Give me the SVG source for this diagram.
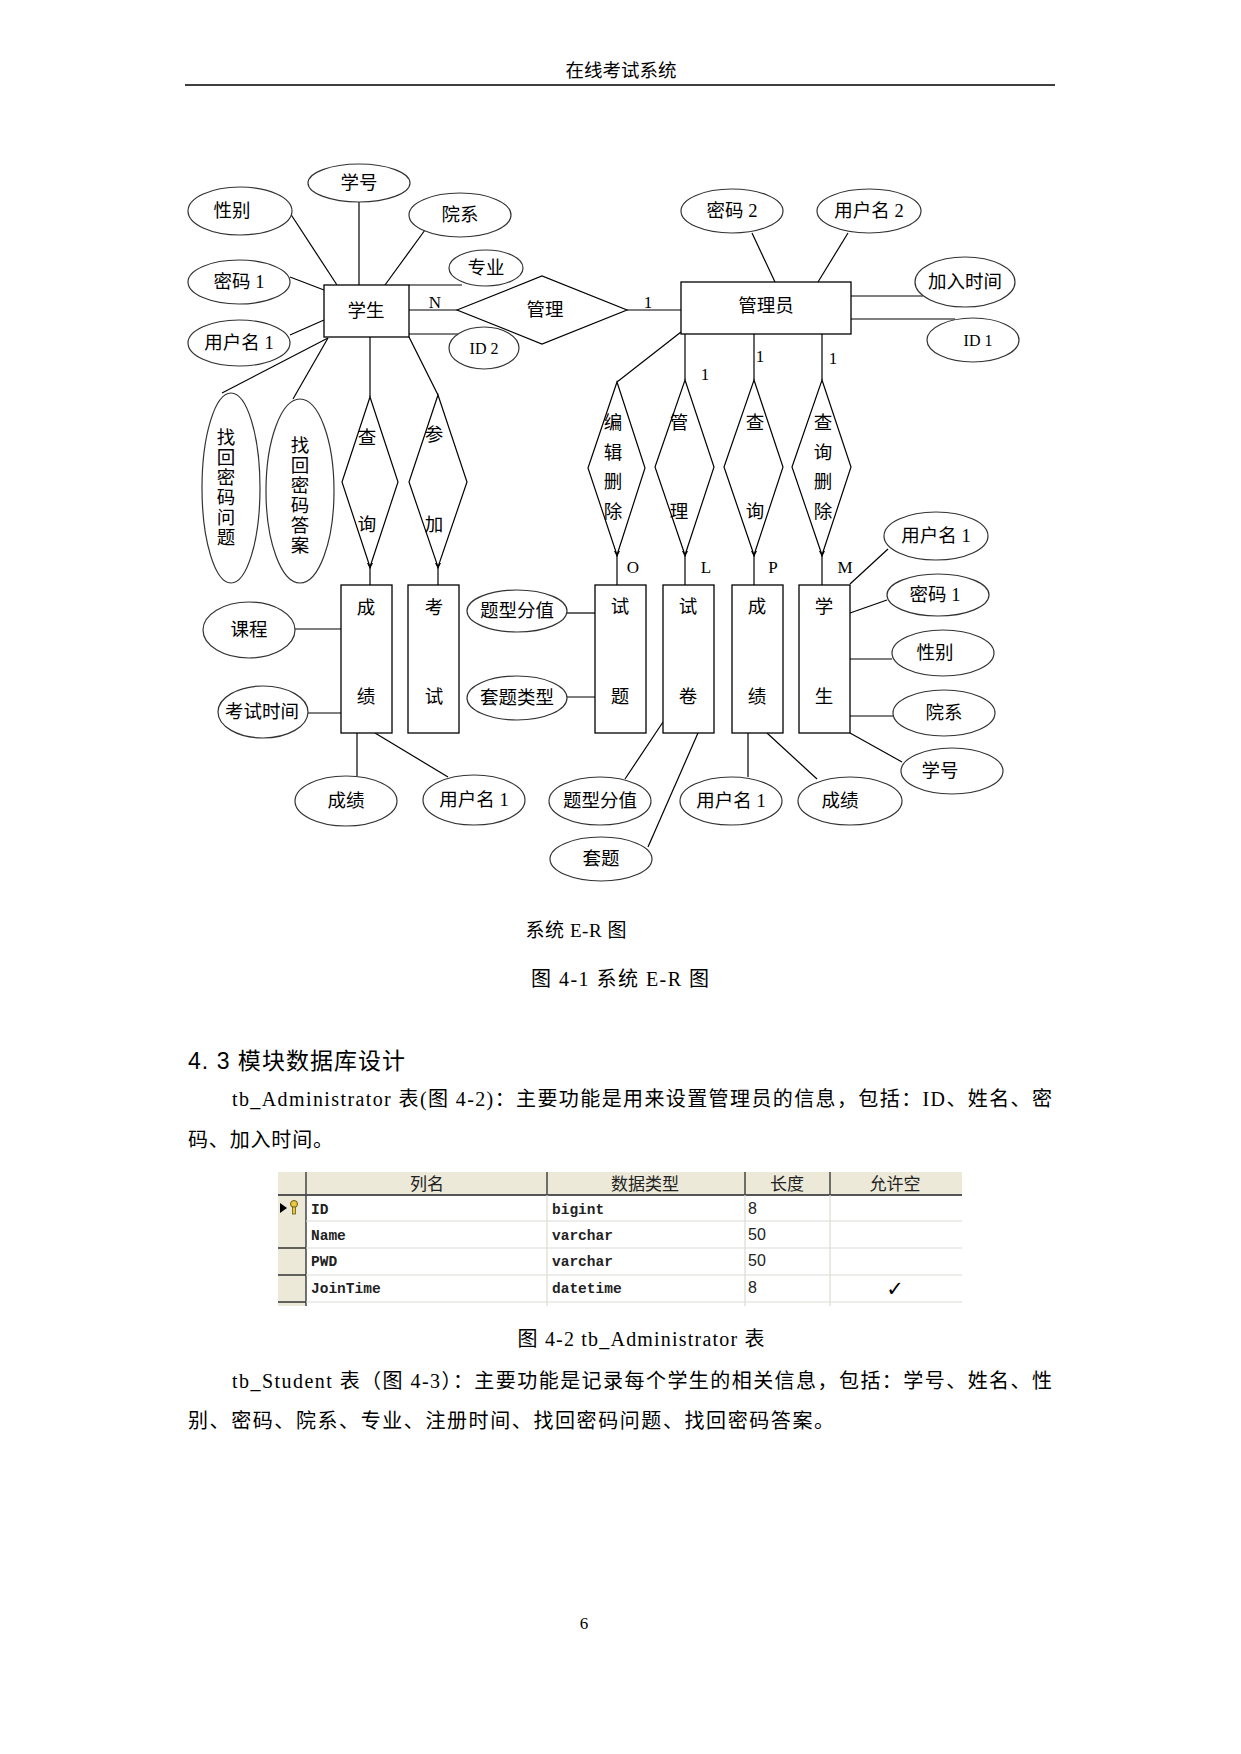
<svg xmlns="http://www.w3.org/2000/svg" width="1241" height="1754" viewBox="0 0 1241 1754">
<style>
  .ent rect { fill: #fff; stroke: #000; stroke-width: 1.3; }
  .attr ellipse { fill: #fff; stroke: #333; stroke-width: 1.2; }
  .rel polygon { fill: #fff; stroke: #000; stroke-width: 1.2; }
  #connectors line { stroke: #000; stroke-width: 1.2; }
  text { font-family: "Liberation Serif", "Noto Sans CJK SC", serif; fill: #000; }
  .lbl { font-size: 18.5px; text-anchor: middle; dominant-baseline: central; }
  .card { font-size: 17px; text-anchor: middle; dominant-baseline: central; }
  .body { font-size: 20px; }
  .cap { font-size: 20px; text-anchor: middle; }
  .th { font-family: "Noto Sans CJK SC", sans-serif; font-size: 17px; text-anchor: middle; fill: #222; }
  .td { font-family: "Liberation Mono", monospace; font-size: 14.5px; font-weight: bold; fill: #222; }
  .tn { font-family: "Liberation Sans", sans-serif; font-size: 16px; fill: #222; }
</style>
<defs>
  <marker id="tip" markerWidth="6" markerHeight="6" refX="0" refY="3" orient="auto" markerUnits="userSpaceOnUse">
    <path d="M0,0 L6,3 L0,6 z" fill="#000"/>
  </marker>
</defs>
<rect width="1241" height="1754" fill="#fff"/>

<!-- page header -->
<text x="621" y="77" class="cap" style="font-size:18.5px">在线考试系统</text>
<line x1="185" y1="85" x2="1055" y2="85" stroke="#000" stroke-width="1.5"/>

<!-- connectors -->
<g id="connectors">
  <line x1="359" y1="202" x2="359" y2="285"/>
  <line x1="290" y1="213" x2="337" y2="285"/>
  <line x1="425" y1="230" x2="385" y2="285"/>
  <line x1="290" y1="277" x2="324" y2="290"/>
  <line x1="290" y1="335" x2="324" y2="320"/>
  <line x1="409" y1="285" x2="462" y2="285"/>
  <line x1="409" y1="334" x2="458" y2="334"/>
  <line x1="409" y1="310" x2="457" y2="310"/>
  <line x1="627" y1="310" x2="681" y2="310"/>
  <line x1="752" y1="233" x2="775" y2="282"/>
  <line x1="848" y1="233" x2="818" y2="282"/>
  <line x1="851" y1="296" x2="923" y2="296"/>
  <line x1="851" y1="319" x2="955" y2="319"/>
  <line x1="681" y1="332" x2="617" y2="382"/>
  <line x1="685" y1="334" x2="685" y2="380"/>
  <line x1="754" y1="334" x2="754" y2="380"/>
  <line x1="822" y1="334" x2="822" y2="380"/>
  <line x1="617" y1="551" x2="617" y2="585" marker-start="url(#tip)"/>
  <line x1="685" y1="551" x2="685" y2="585" marker-start="url(#tip)"/>
  <line x1="754" y1="551" x2="754" y2="585" marker-start="url(#tip)"/>
  <line x1="822" y1="551" x2="822" y2="585" marker-start="url(#tip)"/>
  <line x1="370" y1="337" x2="370" y2="397"/>
  <line x1="409" y1="337" x2="438" y2="395"/>
  <line x1="370" y1="563" x2="370" y2="585" marker-start="url(#tip)"/>
  <line x1="438" y1="563" x2="438" y2="585" marker-start="url(#tip)"/>
  <line x1="328" y1="338" x2="222" y2="393"/>
  <line x1="328" y1="338" x2="293" y2="399"/>
  <line x1="295" y1="629" x2="341" y2="629"/>
  <line x1="308" y1="713" x2="341" y2="713"/>
  <line x1="357" y1="733" x2="357" y2="776"/>
  <line x1="375" y1="733" x2="448" y2="777"/>
  <line x1="567" y1="613" x2="595" y2="613"/>
  <line x1="567" y1="697" x2="600" y2="697"/>
  <line x1="625" y1="779" x2="663" y2="722"/>
  <line x1="648" y1="847" x2="698" y2="733"/>
  <line x1="748" y1="733" x2="748" y2="777"/>
  <line x1="767" y1="733" x2="817" y2="779"/>
  <line x1="888" y1="549" x2="850" y2="584"/>
  <line x1="887" y1="600" x2="850" y2="613"/>
  <line x1="850" y1="659" x2="892" y2="659"/>
  <line x1="850" y1="716" x2="893" y2="716"/>
  <line x1="850" y1="733" x2="902" y2="762"/>
</g>

<!-- cardinality labels -->
<g id="cardinalities">
  <text x="435" y="302" class="card">N</text>
  <text x="648" y="302" class="card">1</text>
  <text x="705" y="374" class="card">1</text>
  <text x="760" y="356" class="card">1</text>
  <text x="833" y="358" class="card">1</text>
  <text x="633" y="567" class="card">O</text>
  <text x="706" y="567" class="card">L</text>
  <text x="773" y="567" class="card">P</text>
  <text x="845" y="567" class="card">M</text>
</g>

<!-- entities -->
<g id="ent-student" class="ent"><rect x="324" y="285" width="85" height="52"/><text x="366" y="311" class="lbl">学生</text></g>
<g id="ent-admin" class="ent"><rect x="681" y="282" width="170" height="52"/><text x="766" y="306" class="lbl">管理员</text></g>
<g id="ent-score-l" class="ent"><rect x="341" y="585" width="51" height="148"/><text x="366" y="608" class="lbl">成</text><text x="366" y="697" class="lbl">绩</text></g>
<g id="ent-exam" class="ent"><rect x="408" y="585" width="51" height="148"/><text x="434" y="608" class="lbl">考</text><text x="434" y="697" class="lbl">试</text></g>
<g id="ent-question" class="ent"><rect x="595" y="585" width="51" height="148"/><text x="620" y="607" class="lbl">试</text><text x="620" y="697" class="lbl">题</text></g>
<g id="ent-paper" class="ent"><rect x="663" y="585" width="51" height="148"/><text x="688" y="607" class="lbl">试</text><text x="688" y="697" class="lbl">卷</text></g>
<g id="ent-score-r" class="ent"><rect x="732" y="585" width="51" height="148"/><text x="757" y="607" class="lbl">成</text><text x="757" y="697" class="lbl">绩</text></g>
<g id="ent-student-r" class="ent"><rect x="799" y="585" width="51" height="148"/><text x="824" y="607" class="lbl">学</text><text x="824" y="697" class="lbl">生</text></g>

<!-- relationships -->
<g id="rel-manage" class="rel"><polygon points="457,310 542,276 627,310 542,344"/><text x="545" y="310" class="lbl">管理</text></g>
<g id="rel-query-l" class="rel"><polygon points="370,397 398,482 370,567 342,482"/><text x="367" y="438" class="lbl">查</text><text x="367" y="525" class="lbl">询</text></g>
<g id="rel-join" class="rel"><polygon points="438,395 467,482 438,567 409,482"/><text x="434" y="435" class="lbl">参</text><text x="434" y="525" class="lbl">加</text></g>
<g id="rel-edit" class="rel"><polygon points="617,382 645,468 617,555 588,468"/><text x="613" y="423" class="lbl">编</text><text x="613" y="453" class="lbl">辑</text><text x="613" y="482" class="lbl">删</text><text x="613" y="512" class="lbl">除</text></g>
<g id="rel-manage2" class="rel"><polygon points="685,380 714,467 685,555 655,467"/><text x="679" y="423" class="lbl">管</text><text x="679" y="512" class="lbl">理</text></g>
<g id="rel-query2" class="rel"><polygon points="754,380 783,467 754,555 724,467"/><text x="755" y="423" class="lbl">查</text><text x="755" y="512" class="lbl">询</text></g>
<g id="rel-querydel" class="rel"><polygon points="822,380 851,467 822,555 792,467"/><text x="823" y="423" class="lbl">查</text><text x="823" y="453" class="lbl">询</text><text x="823" y="482" class="lbl">删</text><text x="823" y="512" class="lbl">除</text></g>

<!-- attributes -->
<g id="a-xuehao" class="attr"><ellipse cx="359" cy="183" rx="51" ry="19"/><text x="359" y="183" class="lbl">学号</text></g>
<g id="a-xingbie" class="attr"><ellipse cx="240" cy="211" rx="52" ry="24"/><text x="232" y="211" class="lbl">性别</text></g>
<g id="a-yuanxi" class="attr"><ellipse cx="460" cy="215" rx="51" ry="22"/><text x="460" y="215" class="lbl">院系</text></g>
<g id="a-mima1" class="attr"><ellipse cx="239" cy="282" rx="51" ry="22"/><text x="239" y="282" class="lbl">密码 1</text></g>
<g id="a-yonghu1" class="attr"><ellipse cx="239" cy="343" rx="51" ry="23"/><text x="239" y="343" class="lbl">用户名 1</text></g>
<g id="a-zhuanye" class="attr"><ellipse cx="486" cy="268" rx="37" ry="18"/><text x="486" y="268" class="lbl">专业</text></g>
<g id="a-id2" class="attr"><ellipse cx="484" cy="348" rx="35" ry="21"/><text x="484" y="348" class="lbl" style="font-size:16px">ID 2</text></g>
<g id="a-question" class="attr"><ellipse cx="231" cy="488" rx="29" ry="95"/>
  <text x="226" y="438" class="lbl">找</text><text x="226" y="458" class="lbl">回</text><text x="226" y="478" class="lbl">密</text><text x="226" y="498" class="lbl">码</text><text x="226" y="518" class="lbl">问</text><text x="226" y="538" class="lbl">题</text></g>
<g id="a-answer" class="attr"><ellipse cx="300" cy="491" rx="34" ry="92"/>
  <text x="300" y="446" class="lbl">找</text><text x="300" y="466" class="lbl">回</text><text x="300" y="486" class="lbl">密</text><text x="300" y="506" class="lbl">码</text><text x="300" y="526" class="lbl">答</text><text x="300" y="546" class="lbl">案</text></g>
<g id="a-mima2" class="attr"><ellipse cx="732" cy="211" rx="51" ry="22"/><text x="732" y="211" class="lbl">密码 2</text></g>
<g id="a-yonghu2" class="attr"><ellipse cx="869" cy="211" rx="52" ry="22"/><text x="869" y="211" class="lbl">用户名 2</text></g>
<g id="a-jiaru" class="attr"><ellipse cx="965" cy="282" rx="50" ry="25"/><text x="965" y="282" class="lbl">加入时间</text></g>
<g id="a-id1" class="attr"><ellipse cx="973" cy="340" rx="46" ry="22"/><text x="978" y="340" class="lbl" style="font-size:16px">ID 1</text></g>
<g id="a-kecheng" class="attr"><ellipse cx="249" cy="630" rx="46" ry="28"/><text x="249" y="630" class="lbl">课程</text></g>
<g id="a-kaoshi" class="attr"><ellipse cx="263" cy="712" rx="45" ry="26"/><text x="262" y="712" class="lbl">考试时间</text></g>
<g id="a-chengji1" class="attr"><ellipse cx="346" cy="801" rx="51" ry="25"/><text x="346" y="801" class="lbl">成绩</text></g>
<g id="a-yonghu3" class="attr"><ellipse cx="474" cy="800" rx="51" ry="25"/><text x="474" y="800" class="lbl">用户名 1</text></g>
<g id="a-tixing1" class="attr"><ellipse cx="517" cy="611" rx="50" ry="21"/><text x="517" y="611" class="lbl">题型分值</text></g>
<g id="a-taoti1" class="attr"><ellipse cx="517" cy="698" rx="50" ry="22"/><text x="517" y="698" class="lbl">套题类型</text></g>
<g id="a-tixing2" class="attr"><ellipse cx="600" cy="801" rx="51" ry="24"/><text x="600" y="801" class="lbl">题型分值</text></g>
<g id="a-taoti2" class="attr"><ellipse cx="601" cy="859" rx="51" ry="22"/><text x="601" y="859" class="lbl">套题</text></g>
<g id="a-yonghu4" class="attr"><ellipse cx="731" cy="801" rx="51" ry="24"/><text x="731" y="801" class="lbl">用户名 1</text></g>
<g id="a-chengji2" class="attr"><ellipse cx="850" cy="801" rx="52" ry="24"/><text x="840" y="801" class="lbl">成绩</text></g>
<g id="a-yonghu5" class="attr"><ellipse cx="936" cy="536" rx="52" ry="24"/><text x="936" y="536" class="lbl">用户名 1</text></g>
<g id="a-mima3" class="attr"><ellipse cx="938" cy="595" rx="51" ry="21"/><text x="935" y="595" class="lbl">密码 1</text></g>
<g id="a-xingbie2" class="attr"><ellipse cx="943" cy="653" rx="51" ry="23"/><text x="935" y="653" class="lbl">性别</text></g>
<g id="a-yuanxi2" class="attr"><ellipse cx="944" cy="713" rx="51" ry="23"/><text x="944" y="713" class="lbl">院系</text></g>
<g id="a-xuehao2" class="attr"><ellipse cx="952" cy="771" rx="51" ry="23"/><text x="940" y="771" class="lbl">学号</text></g>

<!-- captions and body text -->
<text x="576" y="937" class="cap" style="font-size:19px" textLength="101" lengthAdjust="spacing">系统 E-R 图</text>
<text x="620" y="986" class="cap" textLength="178" lengthAdjust="spacing">图 4-1  系统 E-R 图</text>
<text x="188" y="1069" style="font-family:'Liberation Sans','Noto Sans CJK SC',sans-serif;font-size:23px" textLength="217" lengthAdjust="spacing">4. 3 模块数据库设计</text>
<text x="232" y="1106" class="body" textLength="820" lengthAdjust="spacing">tb_Administrator 表(图 4-2)：主要功能是用来设置管理员的信息，包括：ID、姓名、密</text>
<text x="188" y="1147" class="body" textLength="145" lengthAdjust="spacing">码、加入时间。</text>

<!-- table -->
<g id="table">
  <rect x="278" y="1172" width="684" height="23" fill="#ece9d8"/>
  <rect x="278" y="1172" width="28" height="134" fill="#ece9d8"/>
  <line x1="278" y1="1195" x2="962" y2="1195" stroke="#555" stroke-width="2"/>
  <line x1="306" y1="1172" x2="306" y2="1306" stroke="#444" stroke-width="1.5"/>
  <line x1="547" y1="1172" x2="547" y2="1195" stroke="#444" stroke-width="1.5"/>
  <line x1="745" y1="1172" x2="745" y2="1195" stroke="#444" stroke-width="1.5"/>
  <line x1="830" y1="1172" x2="830" y2="1195" stroke="#444" stroke-width="1.5"/>
  <g stroke="#dcdcd4" stroke-width="1.2">
    <line x1="547" y1="1195" x2="547" y2="1306"/>
    <line x1="745" y1="1195" x2="745" y2="1306"/>
    <line x1="830" y1="1195" x2="830" y2="1306"/>
    <line x1="306" y1="1221" x2="962" y2="1221"/>
    <line x1="306" y1="1248" x2="962" y2="1248"/>
    <line x1="306" y1="1275" x2="962" y2="1275"/>
    <line x1="306" y1="1302" x2="962" y2="1302"/>
  </g>
  <g stroke="#333" stroke-width="1.5">
    <line x1="278" y1="1248" x2="306" y2="1248"/>
    <line x1="278" y1="1275" x2="306" y2="1275"/>
    <line x1="278" y1="1302" x2="306" y2="1302"/>
  </g>
  <polygon points="280,1203 287,1208 280,1213" fill="#000"/>
  <circle cx="294" cy="1204" r="3.5" fill="#e8c840" stroke="#6a5a10" stroke-width="1"/>
  <rect x="292.5" y="1207" width="3" height="7" fill="#e8c840" stroke="#6a5a10" stroke-width="0.8"/>
  <text x="427" y="1190" class="th">列名</text>
  <text x="645" y="1190" class="th">数据类型</text>
  <text x="787" y="1190" class="th">长度</text>
  <text x="895" y="1190" class="th">允许空</text>
  <text x="311" y="1214" class="td">ID</text>
  <text x="552" y="1214" class="td">bigint</text>
  <text x="748" y="1214" class="tn">8</text>
  <text x="311" y="1240" class="td">Name</text>
  <text x="552" y="1240" class="td">varchar</text>
  <text x="748" y="1240" class="tn">50</text>
  <text x="311" y="1266" class="td">PWD</text>
  <text x="552" y="1266" class="td">varchar</text>
  <text x="748" y="1266" class="tn">50</text>
  <text x="311" y="1293" class="td">JoinTime</text>
  <text x="552" y="1293" class="td">datetime</text>
  <text x="748" y="1293" class="tn">8</text>
  <text x="895" y="1296" style="font-family:'DejaVu Sans',sans-serif;font-size:21px;text-anchor:middle">✓</text>
</g>

<text x="641" y="1346" class="cap" textLength="247" lengthAdjust="spacing">图 4-2 tb_Administrator 表</text>
<text x="232" y="1388" class="body" textLength="820" lengthAdjust="spacing">tb_Student 表（图 4-3）：主要功能是记录每个学生的相关信息，包括：学号、姓名、性</text>
<text x="188" y="1428" class="body" textLength="646" lengthAdjust="spacing">别、密码、院系、专业、注册时间、找回密码问题、找回密码答案。</text>
<text x="584" y="1629" class="cap" style="font-size:17px">6</text>
</svg>
